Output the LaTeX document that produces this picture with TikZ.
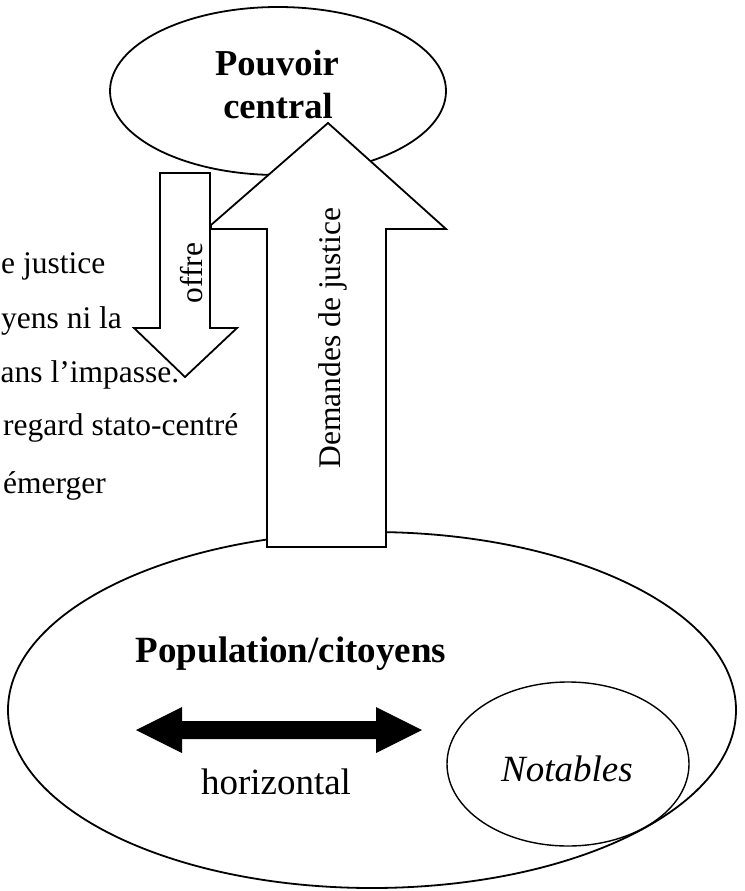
\documentclass[tikz,border=0pt]{standalone}
\usepackage{fontspec}
\setmainfont{Liberation Serif}
\begin{document}
\begin{tikzpicture}[x=1pt,y=-1pt,
  shape line/.style={draw=black,line width=1.8pt,line join=miter},
  bigtxt/.style={font=\fontsize{37}{44}\selectfont,inner sep=0pt},
  bigbold/.style={font=\fontsize{36.5}{43}\selectfont\bfseries,inner sep=0pt},
  smalltxt/.style={font=\fontsize{31.5}{38}\selectfont,inner sep=0pt}]
\useasboundingbox (0,0) rectangle (744,891);
\fill[white] (0,0) rectangle (744,891);
% left paragraph fragment
\node[smalltxt,anchor=base west] (l1) at (1,273) {e justice};
\node[smalltxt,anchor=base west] (l2) at (1,328) {yens ni la};
\node[smalltxt,anchor=base west] (l3) at (0.5,382) {ans l’impasse.};
\node[smalltxt,anchor=base west] (l4) at (3,435) {regard stato-centré};
\node[smalltxt,anchor=base west] (l5) at (3,493) {émerger};
% population ellipse
\draw[shape line,fill=white] (372,710) ellipse [x radius=364, y radius=178];
% notables ellipse
\draw[draw=black,line width=1.4pt] (568,764) ellipse [x radius=121, y radius=82];
% pouvoir central ellipse
\draw[shape line,fill=white] (278,91) ellipse [x radius=168, y radius=84];
% offre arrow (down)
\draw[shape line,fill=white] (160,173) -- (210,173) -- (210,328) -- (237,328)
  -- (185,377) -- (134,328) -- (160,328) -- cycle;
% demandes de justice arrow (up)
\draw[shape line,fill=white] (267,547) -- (267,229) -- (211,229) -- (211,225)
  -- (328,123) -- (446,229) -- (386,229) -- (386,547) -- cycle;
% horizontal double arrow
\fill[black] (136,730) -- (182,707) -- (182,721) -- (376,721) -- (376,707)
  -- (422,730) -- (376,753) -- (376,739) -- (182,739) -- (182,753) -- cycle;
% texts
\node[bigbold,anchor=base] (pouvoir) at (277,75) {Pouvoir};
\node[bigbold,anchor=base] (central) at (278,118) {central};
\node[smalltxt,rotate=90,anchor=base] (offre) at (202,273) {offre};
\node[smalltxt,rotate=90,anchor=base] (demandes) at (340,338) {Demandes de justice};
\node[bigbold,anchor=base,font=\fontsize{37}{44}\selectfont\bfseries] (population) at (291,662) {Population/citoyens};
\node[bigtxt,anchor=base] (horizontal) at (276,794) {horizontal};
\node[bigtxt,anchor=base,font=\fontsize{37}{44}\selectfont\itshape] (notables) at (567,781) {Notables};
\end{tikzpicture}
\end{document}
